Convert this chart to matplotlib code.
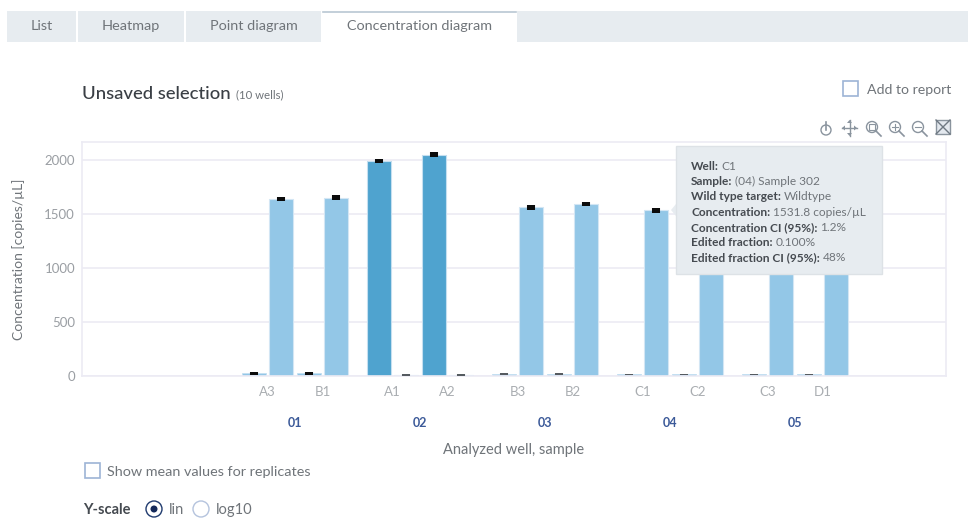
import numpy as np
import matplotlib
matplotlib.use('Agg')
import matplotlib.pyplot as plt
from matplotlib.patches import Rectangle, Circle, Polygon

# chart data
samples = ['01', '02', '03', '04', '05']
wells = ['A3', 'B1', 'A1', 'A2', 'B3', 'B2', 'C1', 'C2', 'C3', 'D1']
wildtype = [20, 20, 1990, 2050, 12, 12, 10, 10, 10, 10]
edited = [1640, 1650, 8, 8, 1560, 1590, 1532, 1560, 1600, 1610]
wildtype_err = [12, 12, 20, 20, 9, 9, 8, 8, 8, 8]
edited_err = [20, 20, 8, 8, 20, 20, 20, 20, 20, 20]
yticks = [0, 500, 1000, 1500, 2000]

tabs = ['List', 'Heatmap', 'Point diagram', 'Concentration diagram']
tooltip = [('Well:', 'C1'),
           ('Sample:', '(04) Sample 302'),
           ('Wild type target:', 'Wildtype'),
           ('Concentration:', '1531.8 copies/µL'),
           ('Concentration CI (95%):', '1.2%'),
           ('Edited fraction:', '0.100%'),
           ('Edited fraction CI (95%):', '48%')]

plt.rcParams['font.family'] = ['Lato', 'DejaVu Sans']

LIGHT = '#93C7E7'
DARK = '#4FA3CF'
GRID = '#ECEBF4'
TEXT = '#6F7479'
DARKTEXT = '#454A50'

W, H = 968, 518
fig = plt.figure(figsize=(W / 100, H / 100), dpi=100)

# chart axes, placed in pixels
left, right, top, bottom = 82, 946, 142, 376
ax = fig.add_axes([left / W, 1 - bottom / H, (right - left) / W, (bottom - top) / H])

# x unit is one sample group
groups = np.repeat(np.arange(5), 2)
well_x = groups + np.tile([-0.22, 0.22], 5)
bar_w = 0.185
off = 0.108

ax.bar(well_x - off, wildtype, bar_w, color=LIGHT, edgecolor='#C4DFF1', lw=0.6, zorder=2)
ax.bar(well_x[2:4] - off, wildtype[2:4], bar_w, color=DARK, edgecolor='#C5DFF0', lw=0.8, zorder=2)
ax.bar(well_x + off, edited, bar_w, color=LIGHT, edgecolor='#D3E6F4', lw=0.8, zorder=2)

# the whiskers are so short at this scale that they read as small blocks
err_col = lambda e: ['#555B60' if v < 10 else '#0B0B0B' for v in e]
ax.errorbar(well_x - off, wildtype, yerr=wildtype_err, fmt='none', ecolor=err_col(wildtype_err),
            elinewidth=5.8, capsize=0, zorder=3)
ax.errorbar(well_x + off, edited, yerr=edited_err, fmt='none', ecolor=err_col(edited_err),
            elinewidth=5.8, capsize=0, zorder=3)

ax.set_xlim((left - 295) / 125, (right - 295) / 125)
ax.set_ylim(-4, (375.5 - top) / 0.1078)
ax.set_yticks(yticks)
ax.set_xticks(well_x)
ax.set_xticklabels(wells)
ax.tick_params(axis='x', length=0, pad=7, labelsize=9.5, labelcolor='#A9ADB1')
ax.tick_params(axis='y', length=0, pad=5, labelsize=9.5, labelcolor='#9A9EA3')
ax.grid(axis='y', color=GRID, lw=1.2, zorder=0)
ax.set_axisbelow(True)
for s in ax.spines.values():
    s.set_color(GRID)
    s.set_linewidth(1.2)
ax.set_ylabel('Concentration [copies/µL]', fontsize=10, color=TEXT, labelpad=14)
ax.set_xlabel('Analyzed well, sample', fontsize=10.5, color=TEXT, labelpad=32.5)
for i, s in enumerate(samples):
    ax.annotate(s, (i, 0), xycoords=('data', 'axes fraction'), xytext=(0, -46 * 0.72 - 1),
                textcoords='offset points', ha='center', va='center',
                fontsize=9, fontweight='bold', color='#3C5A99')

# page furniture, drawn in pixel coordinates on top of the chart
ui = fig.add_axes([0, 0, 1, 1], zorder=5)
ui.set_xlim(0, W)
ui.set_ylim(H, 0)
ui.axis('off')
ui.patch.set_alpha(0)

ui.add_patch(Rectangle((517, 11), W - 517, 31, color='#E7ECF0', lw=0))
tab_edges = [(7, 76), (78, 184), (186, 321), (323, 516)]
for (a, b), name in zip(tab_edges, tabs):
    active = name == tabs[-1]
    ui.add_patch(Rectangle((a, 11), b - a, 31, color='white' if active else '#E7ECF0', lw=0))
    ui.text((a + b) / 2, 26, name, ha='center', va='center', fontsize=10.4, color=TEXT)
ui.plot([323, 516], [11.5, 11.5], color='#B9C7D3', lw=1.2)

ui.text(82, 94, 'Unsaved selection', fontsize=13.3, color='#3A3F45', va='center', fontweight='medium')
ui.text(236, 95, '(10 wells)', fontsize=8.2, color=TEXT, va='center')

def checkbox(x, y, s=15):
    ui.add_patch(Rectangle((x, y), s, s, fc='white', ec='#9DB4D6', lw=1.2))

checkbox(843, 81)
ui.text(867, 90, 'Add to report', fontsize=10.2, color=TEXT, va='center')
checkbox(85, 463)
ui.text(107, 472, 'Show mean values for replicates', fontsize=10.35, color=TEXT, va='center')

ui.text(83, 510, 'Y-scale', fontsize=10.5, color=DARKTEXT, va='center', fontweight='bold')
ui.add_patch(Circle((154, 509), 8, fc='white', ec='#1F3A6E', lw=1))
ui.add_patch(Circle((154, 509), 3.5, fc='#14295A', lw=0))
ui.text(169, 510, 'lin', fontsize=10.5, color=TEXT, va='center')
ui.add_patch(Circle((201, 509), 8, fc='white', ec='#B4C3DD', lw=1))
ui.text(216, 510, 'log10', fontsize=10.5, color=TEXT, va='center')

# toolbar icons
ic = '#8A949E'
ui.add_patch(Circle((826, 130), 5, fc='none', ec=ic, lw=1))
ui.plot([826, 826], [122, 130], color=ic, lw=1.2)
ui.plot([842, 857], [128, 128], color=ic, lw=1)
ui.plot([849.5, 849.5], [120, 136], color=ic, lw=1)
ui.add_patch(Polygon([(842, 128), (845, 125.5), (845, 130.5)], fc=ic, lw=0))
ui.add_patch(Polygon([(857, 128), (854, 125.5), (854, 130.5)], fc=ic, lw=0))
ui.add_patch(Polygon([(849.5, 120), (847, 123), (852, 123)], fc=ic, lw=0))
ui.add_patch(Polygon([(849.5, 136), (847, 133), (852, 133)], fc=ic, lw=0))
ui.add_patch(Circle((872, 127), 5.5, fc='none', ec=ic, lw=1))
ui.add_patch(Rectangle((869, 124), 6, 6, fc='none', ec=ic, lw=0.8))
ui.plot([876, 881], [131, 136], color=ic, lw=1.2)
ui.add_patch(Circle((895, 127), 5.5, fc='none', ec=ic, lw=1))
ui.plot([892, 898], [127, 127], color=ic, lw=0.8)
ui.plot([895, 895], [124, 130], color=ic, lw=0.8)
ui.plot([899, 904], [131, 136], color=ic, lw=1.2)
ui.add_patch(Circle((918, 127), 5.5, fc='none', ec=ic, lw=1))
ui.plot([915, 921], [127, 127], color=ic, lw=0.8)
ui.plot([922, 927], [131, 136], color=ic, lw=1.2)
ui.add_patch(Rectangle((936, 120), 14, 14, fc='#E3E8EE', ec=ic, lw=1))
ui.plot([936, 950], [120, 134], color='#6E7882', lw=1)
ui.plot([936, 950], [134, 120], color='#6E7882', lw=1)

# tooltip
ui.add_patch(Polygon([(676, 204), (671, 210), (676, 216)], fc='#E7ECF0', ec='none', zorder=6))
ui.add_patch(Rectangle((676, 146), 206, 128, fc='#E7ECF0', ec='#DDE2E6', lw=1, zorder=6))
fig.canvas.draw()
rend = fig.canvas.get_renderer()
for i, (k, v) in enumerate(tooltip):
    y = 166.5 + i * 15.2
    t = ui.text(691, y, k, fontsize=8.55, fontweight='bold', color=DARKTEXT, va='center', zorder=7)
    ext = t.get_window_extent(rend)
    ui.text(ext.x1 + 3, y, v, fontsize=8.55, color=TEXT, va='center', zorder=7)

plt.savefig('out.png', dpi=100)
